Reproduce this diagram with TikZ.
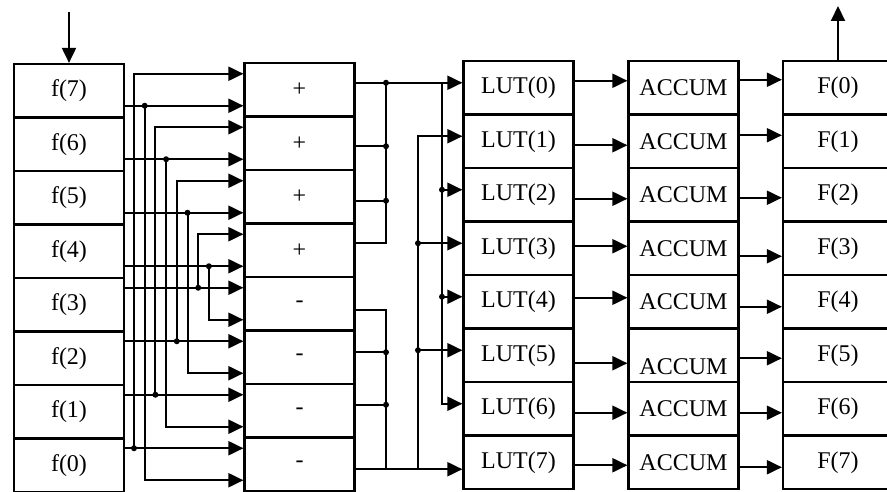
\documentclass[tikz,border=0pt]{standalone}
\usepackage{fontspec}
\setmainfont{Liberation Serif}
\usetikzlibrary{arrows.meta,calc}

\tikzset{
  cell/.style={draw, line width=2.2pt, minimum width=110pt, minimum height=53.5pt,
    inner sep=0pt, font=\fontsize{24}{28}\selectfont},
  wire/.style={line width=2pt},
  feed/.style={wire, -{Triangle[length=15pt,width=14pt]}},
  tap/.style={circle, fill, inner sep=0pt, minimum size=6pt}
}

\begin{document}
\begin{tikzpicture}[x=1pt, y=-1pt]
    \useasboundingbox (0,0) rectangle (887,492);

    % Columns of cells: samples, butterflies, tables, accumulators, coefficients
    \foreach \r/\op in {0/+,1/+,2/+,3/+,4/-,5/-,6/-,7/-}{
        \pgfmathtruncatemacro{\n}{7-\r}
        \node[cell] (f\n)   at (69,    {90.75+53.5*\r}) {f(\n)};
        \node[cell] (add\r) at (299.5, {89.75+53.5*\r}) {\op};
        \node[cell] (lut\r) at (518.5, {87.75+53.5*\r}) {LUT(\r)};
        \node[cell] (out\r) at (838,   {87.75+53.5*\r}) {F(\r)};
        \coordinate (add\r-up) at ($(add\r.west)+(0,-16)$);
        \coordinate (add\r-lo) at ($(add\r.west)+(0,16)$);
    }
    \foreach \r/\dy in {0/0,1/0,2/0,3/0,4/0,5/11,6/0,7/0}
        \node[cell] (acc\r) at (683.5, {87.75+53.5*\r}) {\raisebox{-\dy pt}[\height][\depth]{ACCUM}};

    % Input and output
    \coordinate (src) at (69,12);
    \coordinate (dst) at (838,6);
    \draw[feed] (src) -- (f7.north);
    \draw[feed] (out0.north) -- (dst);

    % Butterfly wiring
    \foreach \i in {0,...,7}
        \coordinate (v\i) at ({134+10.7*\i},0);
    \foreach \k in {0,...,3}{
        \pgfmathtruncatemacro{\m}{7-\k}
        \pgfmathtruncatemacro{\a}{2*\k}
        \pgfmathtruncatemacro{\b}{2*\k+1}
        \draw[feed] (f\m.east |- add\k-lo) -- (add\k-lo);
        \draw[feed] (v\b |- add\k-lo) |- (add\m-lo);
        \node[tap] at (v\b |- add\k-lo) {};
        \draw[feed] (f\k.east |- add\m-up) -- (add\m-up);
        \draw[feed] (v\a |- add\m-up) |- (add\k-up);
        \node[tap] at (v\a |- add\m-up) {};
    }

    % Butterfly outputs and table inputs
    \foreach \r/\o in {0/-7,1/3,2/4,3/-7,4/6,5/-5,6/-6,7/5}
        \coordinate (add\r-out) at ($(add\r.east)+(0,\o)$);
    \foreach \r in {1,...,6}
        \coordinate (lut\r-in) at ($(lut\r.west)+(0,-5)$);
    \coordinate (lut0-in) at (lut0.west |- add0-out);
    \coordinate (lut7-in) at (lut7.west |- add7-out);
    \coordinate (busx) at (386,0);
    \coordinate (oddx) at (418,0);
    \coordinate (evenx) at (442,0);

    % Sums to even tables
    \draw[feed] (add0-out) -- (lut0-in);
    \draw[wire] (busx |- add0-out) |- (add3-out);
    \foreach \r in {1,2}
        \draw[wire] (add\r-out) -- (busx |- add\r-out);
    \foreach \r in {0,1,2}
        \node[tap] at (busx |- add\r-out) {};
    \draw[feed] (evenx |- add0-out) |- (lut6-in);
    \foreach \r in {2,4}{
        \draw[feed] (evenx |- lut\r-in) -- (lut\r-in);
        \node[tap] at (evenx |- lut\r-in) {};
    }

    % Differences to odd tables
    \draw[feed] (add7-out) -- (lut7-in);
    \draw[wire] (add4-out) -| (busx |- add7-out);
    \foreach \r in {5,6}{
        \draw[wire] (add\r-out) -- (busx |- add\r-out);
        \node[tap] at (busx |- add\r-out) {};
    }
    \draw[feed] (oddx |- add7-out) |- (lut1-in);
    \foreach \r in {3,5}{
        \draw[feed] (oddx |- lut\r-in) -- (lut\r-in);
        \node[tap] at (oddx |- lut\r-in) {};
    }

    % Tables to accumulators to coefficients
    \foreach \r/\p/\q in {0/-7/-8,1/4/-6,2/4/3,3/-2/8,4/-4/5,5/8/3,6/4/4,7/3/5}{
        \coordinate (lut\r-out) at ($(lut\r.east)+(0,\p)$);
        \coordinate (acc\r-out) at ($(acc\r.east)+(0,\q)$);
        \draw[feed] (lut\r-out) -- (acc\r.west |- lut\r-out);
        \draw[feed] (acc\r-out) -- (out\r.west |- acc\r-out);
    }
\end{tikzpicture}
\end{document}
